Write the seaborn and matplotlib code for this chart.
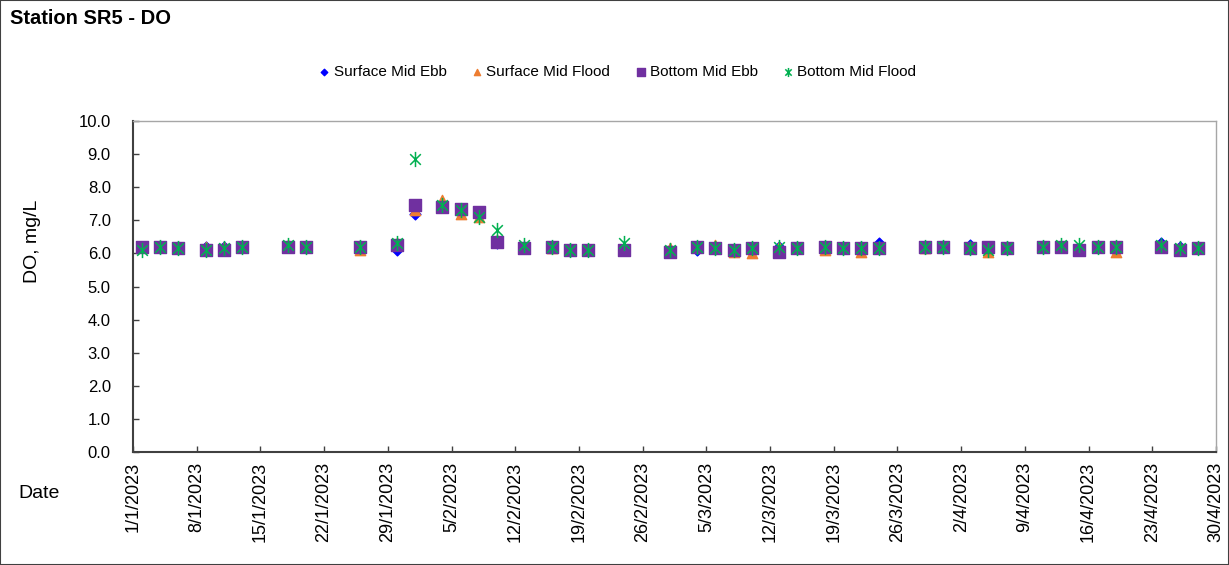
import pandas as pd
import seaborn as sns
import matplotlib.pyplot as plt
from matplotlib.path import Path
from matplotlib.patches import Rectangle

dates = ['2023-01-02', '2023-01-04', '2023-01-06', '2023-01-09', '2023-01-11',
         '2023-01-13', '2023-01-18', '2023-01-20', '2023-01-26', '2023-01-30',
         '2023-02-01', '2023-02-04', '2023-02-06', '2023-02-08', '2023-02-10',
         '2023-02-13', '2023-02-16', '2023-02-18', '2023-02-20', '2023-02-24',
         '2023-03-01', '2023-03-04', '2023-03-06', '2023-03-08', '2023-03-10',
         '2023-03-13', '2023-03-15', '2023-03-18', '2023-03-20', '2023-03-22',
         '2023-03-24', '2023-03-29', '2023-03-31', '2023-04-03', '2023-04-05',
         '2023-04-07', '2023-04-11', '2023-04-13', '2023-04-15', '2023-04-17',
         '2023-04-19', '2023-04-24', '2023-04-26', '2023-04-28']

surface_mid_ebb = [6.2, 6.2, 6.2, 6.2, 6.2, 6.2, 6.2, 6.2, 6.2, 6.1,
                   7.2, 7.4, 7.3, 7.2, 6.3, 6.2, 6.2, 6.1, 6.1, 6.1,
                   6.1, 6.1, 6.2, 6.1, 6.1, 6.2, 6.15, 6.2, 6.15, 6.2,
                   6.3, 6.15, 6.2, 6.25, 6.2, 6.2, 6.2, 6.2, 6.1, 6.2,
                   6.2, 6.3, 6.2, 6.15]
surface_mid_flood = [6.2, 6.2, 6.2, 6.2, 6.2, 6.2, 6.25, 6.2, 6.1, 6.3,
                     7.3, 7.6, 7.2, 7.1, 6.4, 6.2, 6.15, 6.1, 6.1, 6.1,
                     6.15, 6.2, 6.25, 6.05, 6.0, 6.2, 6.15, 6.1, 6.15, 6.05,
                     6.2, 6.15, 6.2, 6.2, 6.05, 6.2, 6.2, 6.2, 6.15, 6.2,
                     6.05, 6.25, 6.15, 6.15]
bottom_mid_ebb = [6.2, 6.2, 6.15, 6.1, 6.1, 6.2, 6.2, 6.2, 6.2, 6.25,
                  7.45, 7.4, 7.35, 7.25, 6.35, 6.15, 6.2, 6.1, 6.1, 6.1,
                  6.05, 6.2, 6.15, 6.1, 6.15, 6.05, 6.15, 6.2, 6.15, 6.15,
                  6.15, 6.2, 6.2, 6.15, 6.2, 6.15, 6.2, 6.2, 6.1, 6.2,
                  6.2, 6.2, 6.1, 6.15]
bottom_mid_flood = [6.1, 6.2, 6.15, 6.1, 6.15, 6.2, 6.25, 6.2, 6.2, 6.3,
                    8.85, 7.45, 7.3, 7.1, 6.7, 6.25, 6.2, 6.1, 6.1, 6.3,
                    6.1, 6.2, 6.15, 6.1, 6.15, 6.2, 6.15, 6.2, 6.15, 6.15,
                    6.15, 6.2, 6.2, 6.15, 6.1, 6.15, 6.2, 6.25, 6.25, 6.2,
                    6.2, 6.25, 6.15, 6.15]

tick_dates = pd.date_range('2023-01-01', '2023-04-30', freq='7D')

data = pd.DataFrame({
    'date': pd.to_datetime(dates),
    'Surface Mid Ebb': surface_mid_ebb,
    'Surface Mid Flood': surface_mid_flood,
    'Bottom Mid Ebb': bottom_mid_ebb,
    'Bottom Mid Flood': bottom_mid_flood,
})

sns.set_style('ticks')
plt.rcParams['font.family'] = ['Liberation Sans', 'DejaVu Sans']
plt.rcParams['text.color'] = 'black'
plt.rcParams['axes.labelcolor'] = 'black'
plt.rcParams['xtick.color'] = 'black'
plt.rcParams['ytick.color'] = 'black'

# excel-style star: an X with a vertical bar
star = Path([(0, -1), (0, 1), (-0.7, -0.7), (0.7, 0.7), (-0.7, 0.7), (0.7, -0.7)],
            [Path.MOVETO, Path.LINETO, Path.MOVETO, Path.LINETO, Path.MOVETO, Path.LINETO])

fig = plt.figure(figsize=(12.29, 5.65), dpi=100)
ax = fig.add_axes([0.1082, 0.2, 0.8812, 0.5858])

styles = {
    'Surface Mid Ebb': dict(marker='D', s=30, color='#0000FF', lw=1),
    'Surface Mid Flood': dict(marker='^', s=55, color='#ED7D31', lw=1),
    'Bottom Mid Ebb': dict(marker='s', s=85, color='#7030A0', lw=1),
    'Bottom Mid Flood': dict(marker=star, s=120, color='#00B050', lw=1.1),
}
for name, st in styles.items():
    sns.scatterplot(x=data['date'], y=data[name], ax=ax, label=name,
                    marker=st['marker'], s=st['s'], color=st['color'],
                    edgecolor=st['color'], linewidth=st['lw'], zorder=3)

ax.set_xlim(pd.Timestamp('2023-01-01'), pd.Timestamp('2023-04-30'))
ax.set_ylim(0, 10)
ax.set_yticks([i for i in range(11)])
ax.set_yticklabels([f'{i:.1f}' for i in range(11)], fontsize=12)
ax.set_xticks(tick_dates)
ax.set_xticklabels([f'{d.day}/{d.month}/{d.year}' for d in tick_dates],
                   rotation=90, fontsize=13)
ax.tick_params(direction='in', length=4, width=1, color='#404040')
ax.tick_params(axis='y', pad=16)
ax.tick_params(axis='x', pad=7)
ax.set_xlabel('')
ax.set_ylabel('DO, mg/L', fontsize=14)
ax.yaxis.set_label_coords(-0.085, 0.637)
for side in ['left', 'bottom']:
    ax.spines[side].set_color('#404040')
    ax.spines[side].set_linewidth(1.5)
for side in ['top', 'right']:
    ax.spines[side].set_visible(True)
    ax.spines[side].set_color('#A6A6A6')
    ax.spines[side].set_linewidth(1)

ax.legend(loc='center', bbox_to_anchor=(0.448, 1.147), ncol=4,
          frameon=False, fontsize=11, markerscale=0.6, handlelength=0.6,
          handletextpad=0.3, columnspacing=1.7, borderaxespad=0)

fig.text(0.008, 0.967, 'Station SR5 - DO', fontsize=14.5, fontweight='bold',
         va='center', ha='left')
fig.text(0.015, 0.127, 'Date', fontsize=14, va='center', ha='left')

fig.patches.append(Rectangle((0, 0), 1, 1, transform=fig.transFigure,
                             fill=False, edgecolor='#404040', linewidth=1.5))

fig.savefig('out.png', dpi=100)
